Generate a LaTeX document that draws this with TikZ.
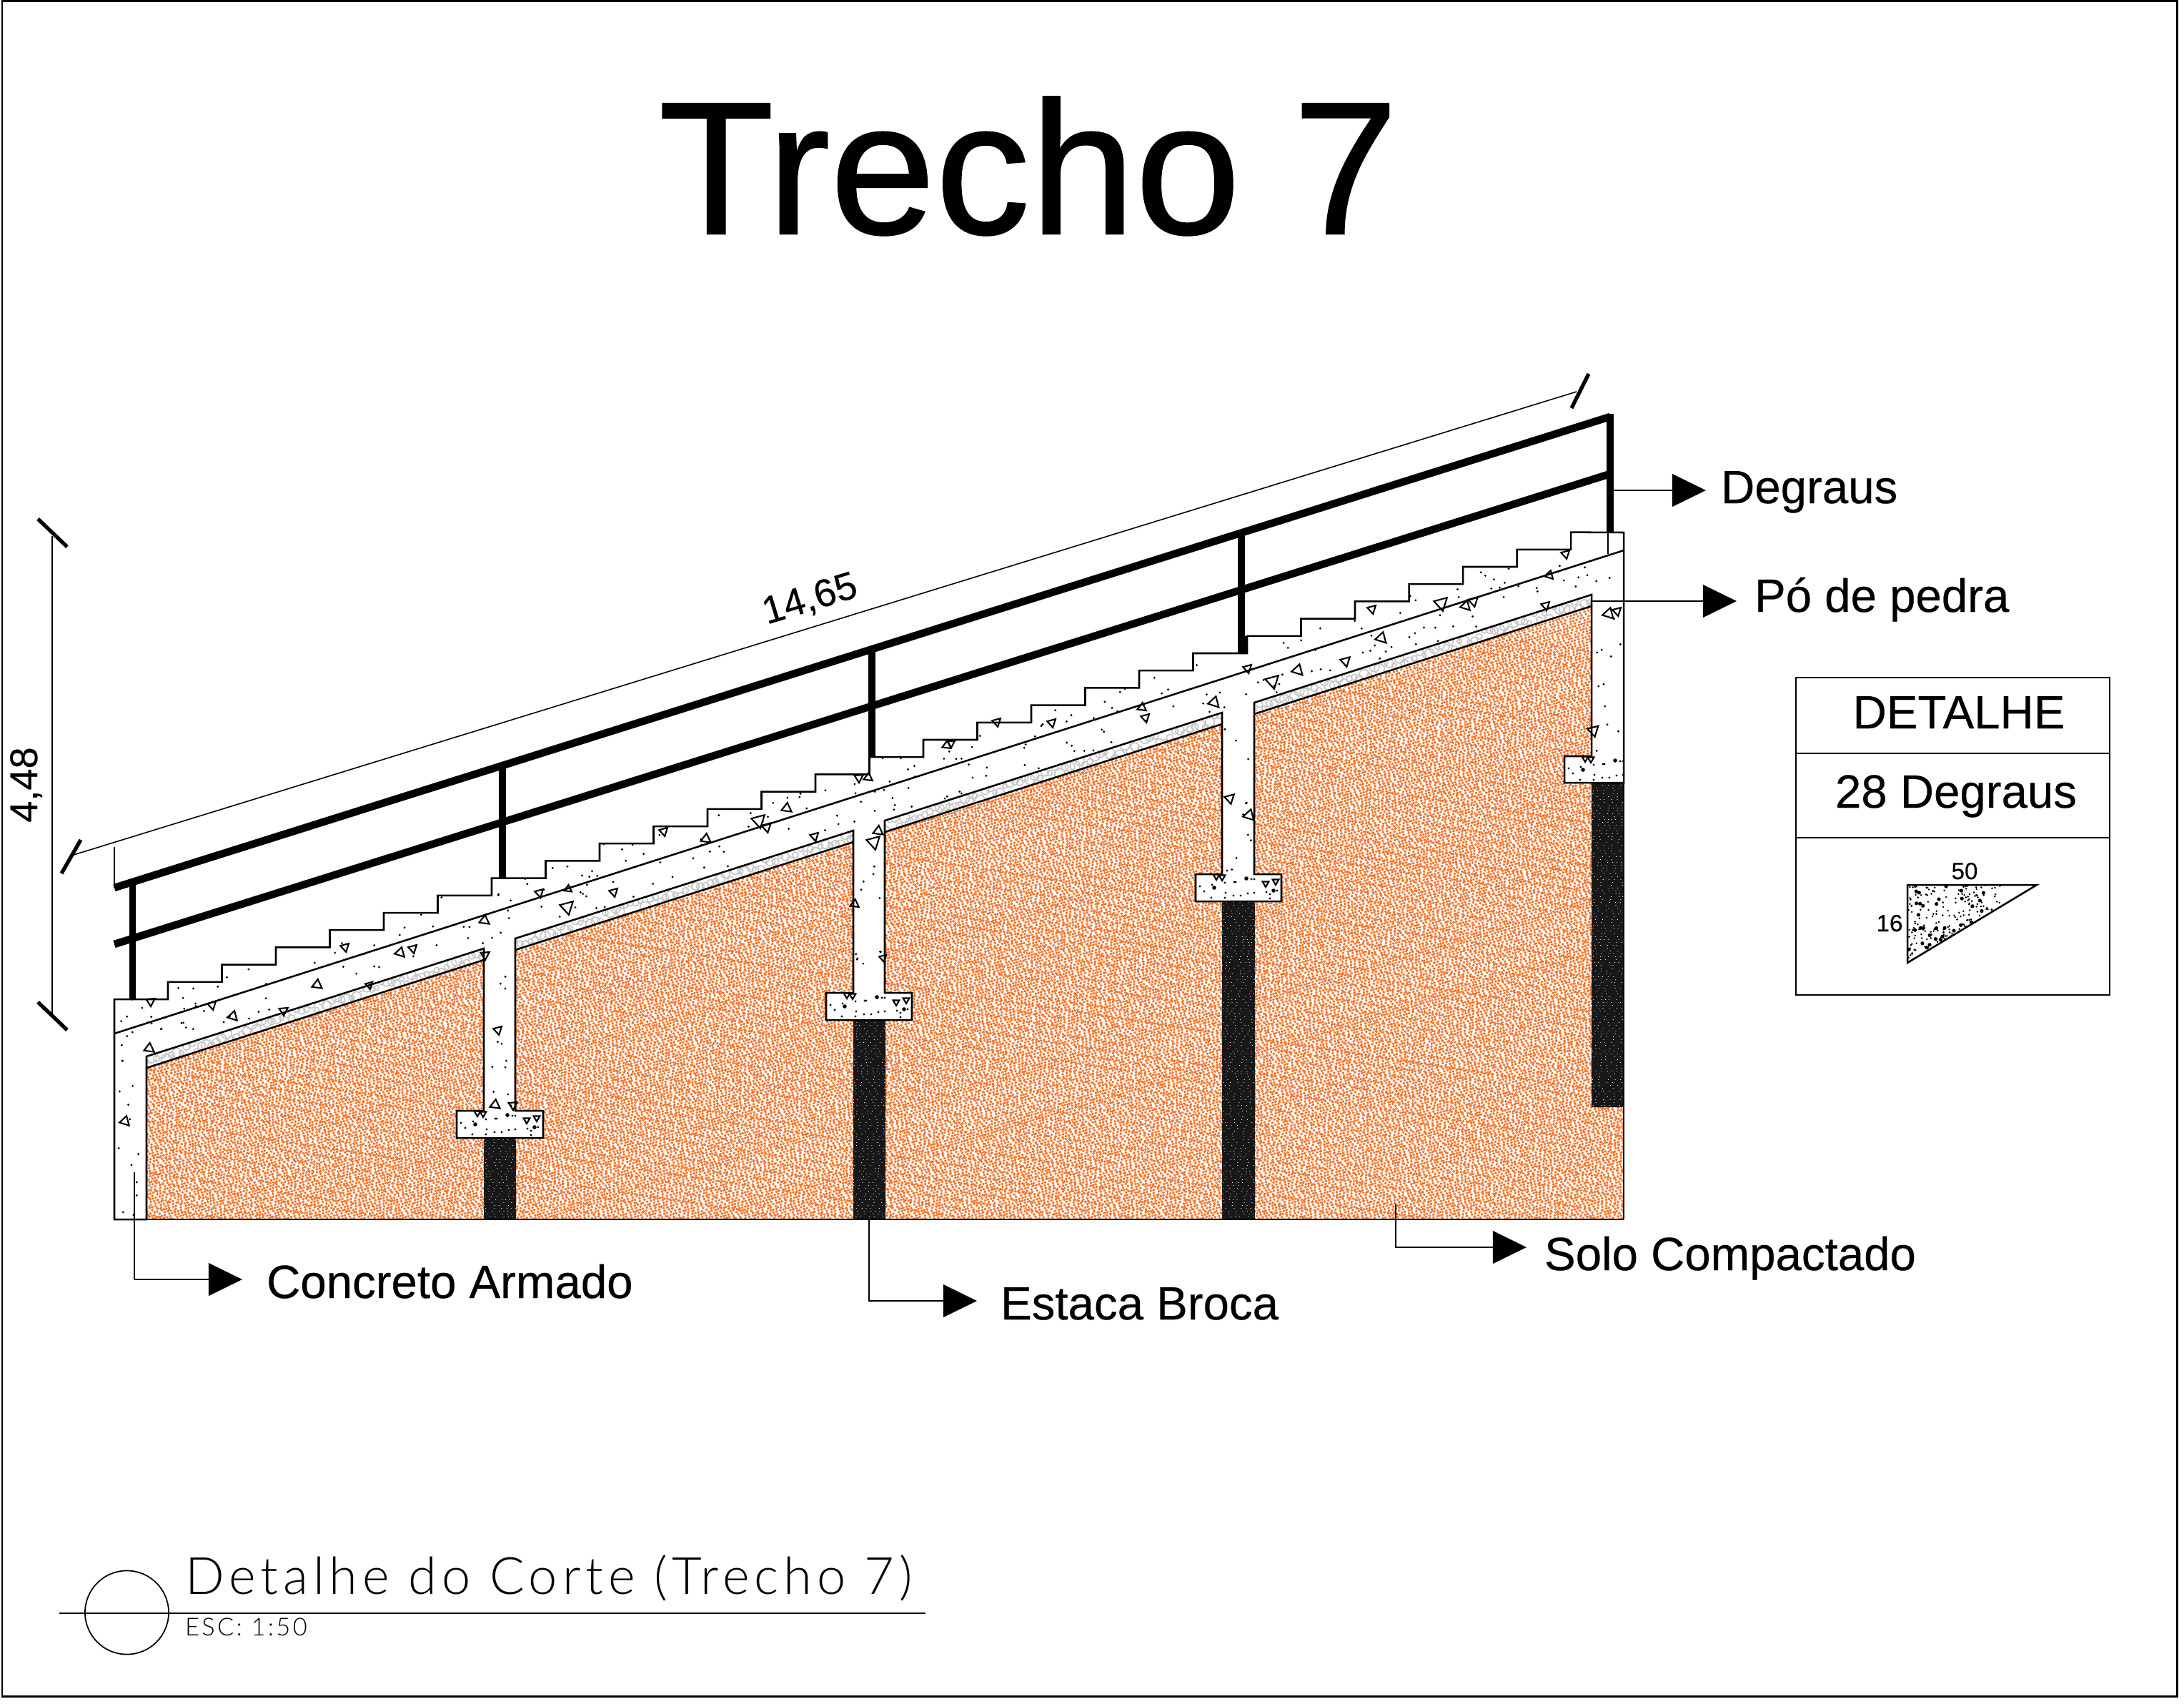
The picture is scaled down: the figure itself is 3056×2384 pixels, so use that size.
\documentclass[tikz,border=0pt]{standalone}
\usepackage{fontspec}
\setmainfont[FakeBold=0.35]{Liberation Sans}
\newfontfamily\headfont[FakeBold=0.8]{Liberation Sans}
\newfontfamily\sheetfont[LetterSpace=9.6]{Lato Light}
\usetikzlibrary{arrows.meta}
\definecolor{soilorange}{RGB}{244,120,48}
\definecolor{gravelgrey}{RGB}{200,200,200}
\definecolor{piledark}{RGB}{24,24,24}
\pgfmathsetseed{31}
\newcommand\concreteoutline{(160,1706) -- (160,1398)
    \foreach \k in {0,...,26} { -- ({235+75.5*\k},{1398-24.2*\k}) -- ({235+75.5*\k},{1373.8-24.2*\k}) }
    -- (2272,745) -- (2272,1095) -- (2189,1095) -- (2189,1058) -- (2227,1058) -- (2227,832)
    -- (1755,983) -- (1755,1223) -- (1793,1223) -- (1793,1261) -- (1673,1261) -- (1673,1223) -- (1710,1223) -- (1710,997)
    -- (1238,1148) -- (1238,1389) -- (1276,1389) -- (1276,1427) -- (1156,1427) -- (1156,1389) -- (1194,1389) -- (1194,1162)
    -- (721,1313) -- (721,1554) -- (760,1554) -- (760,1592) -- (639,1592) -- (639,1554) -- (677,1554) -- (677,1327)
    -- (205,1478) -- (205,1706) -- cycle}
\newcommand\stipplegaps[3]{
    \pgfmathsetmacro\gapa{#1+rnd*#2}
    \pgfmathsetmacro\gapb{#1+rnd*#2}
    \pgfmathsetmacro\gapc{#1+rnd*#2}
    \pgfmathsetmacro\gapd{#1+rnd*#2}
    \pgfmathsetmacro\gape{#1+rnd*#2}
    \pgfmathsetmacro\gapf{rnd*#3}
}
\begin{document}
\begin{tikzpicture}[x = 0.01cm, y = -0.01cm, line width = 0.6pt,
                      outline/.style = {draw, line width = 0.72pt, line join = miter},
                      thinline/.style = {draw, line width = 0.45pt},
                      rail/.style = {draw, line width = 3pt},
                      post/.style = {draw, line width = 2.6pt},
                      tick/.style = {draw, line width = 1.5pt},
                      leader/.style = {draw, line width = 0.5pt, -{Triangle[length = 13.4pt, width = 13pt]}},
                      callout/.style = {anchor = base west, inner sep = 0pt, font = \fontsize{18.6}{20}\selectfont},
                      cell/.style = {anchor = base, inner sep = 0pt, font = \fontsize{18.6}{20}\selectfont},
                      measure/.style = {anchor = base, inner sep = 0pt, font = \fontsize{15.4}{17}\selectfont},
                      small/.style = {anchor = base, inner sep = 0pt, font = \fontsize{9.4}{11}\selectfont},
                      grain/.style = {draw, line width = 0.6pt, line join = miter},
                      gravel/.style = {draw = gravelgrey, line width = 0.5pt},
                      stipple/.style = {dash pattern = on 0.1pt off \gapa pt on 0.1pt off \gapb pt on 0.1pt off \gapc pt on 0.1pt off \gapd pt on 0.1pt off \gape pt, dash phase = \gapf pt},
                      soilrow/.style = {draw = soilorange, line cap = round, line width = 1.08pt, stipple},
                      speck/.style = {draw = white, line cap = round, line width = 0.22pt, stipple}]
    \useasboundingbox (0,0) rectangle (3056,2384);
    \draw [line width = 0.85pt] (3,1) rectangle (3046,2373);
    \node [anchor = base, inner sep = 0pt, font = \headfont\fontsize{75.3}{80}\selectfont] (title) at (1439,327){Trecho 7};
    \begin{scope}
        \clip (205,1494) -- (677,1343) -- (677,1706) -- (205,1706) -- cycle
              (721,1329) -- (1194,1178) -- (1194,1706) -- (721,1706) -- cycle
              (1238,1164) -- (1710,1013) -- (1710,1706) -- (1238,1706) -- cycle
              (1755,999) -- (2227,848) -- (2227,1706) -- (1755,1706) -- cycle
              (2227,1549) rectangle (2272,1706);
        \foreach \r in {1440,1444,...,2345} {
            \stipplegaps{0.9}{1.2}{6}
            \draw [soilrow] (150,\r) -- (2290,{\r-642});
        }
        \foreach \r in {600,612,...,1710} {
            \stipplegaps{1.2}{2}{8}
            \draw [soilrow] (150,\r) -- (2290,{\r+321});
        }
    \end{scope}
    \foreach \a/\b/\c/\d in {205/677/1494/1343, 721/1194/1329/1178, 1238/1710/1164/1013, 1755/2227/999/848} {
        \begin{scope}
            \clip (\a,\c) -- (\b,\d) -- (\b,{\d-16}) -- (\a,{\c-16}) -- cycle;
            \foreach \n in {0,7,...,476} {
                \pgfmathsetmacro\gx{\a+\n}
                \pgfmathsetmacro\gy{\c-8+(\d-\c)/(\b-\a)*\n+(rnd-0.5)*14}
                \pgfmathsetmacro\gr{3+rnd*4.5}
                \draw [gravel] (\gx,\gy) circle [radius = \gr];
            }
        \end{scope}
        \draw [outline] (\a,\c) -- (\b,\d);
    }
    \begin{scope}
        \clip (677,1592) rectangle (722,1706) (1194,1427) rectangle (1239,1706)
              (1710,1261) rectangle (1756,1706) (2227,1095) rectangle (2272,1549);
        \fill [piledark] (600,1050) rectangle (2300,1720);
        \foreach \r in {1090,1094,...,1710} {
            \stipplegaps{1.2}{3.5}{8}
            \draw [speck] (600,\r) -- (2300,\r);
        }
    \end{scope}
    \draw [outline, fill = white] \concreteoutline;
    \draw [thinline] (2272,1095) -- (2272,1706);
    \draw [outline] (160,1706) -- (2272,1706);
    \draw [outline] (160,1446) -- (2272,770);
    \draw [thinline] (2250,745) -- (2250,775);
    \draw [thinline] (1743,890) -- (1743,915);
    \begin{scope}
        \clip \concreteoutline;
        \foreach \i in {1,...,380} {
            \pgfmathsetmacro\dotx{160+rnd*2112}
            \pgfmathsetmacro\doty{1478-0.3195*(\dotx-205)-3-rnd*118}
            \fill (\dotx,\doty) circle [radius = 1.6];
        }
        \foreach \p/\q/\r/\s in {163/203/1500/1700, 680/718/1340/1550, 1197/1235/1175/1385, 1713/1752/1010/1220, 2230/2270/845/1056} {
            \foreach \i in {1,...,11} {
                \fill ({\p+rnd*(\q-\p)},{\r+rnd*(\s-\r)}) circle [radius = 1.6];
            }
        }
        \foreach \fx/\fy in {639/1554, 1156/1389, 1673/1223, 2189/1058} {
            \foreach \u/\v in {6/17, 12/24, 23/15, 41/12, 42/26, 54/11, 56/11, 53/30, 63/30, 73/27, 82/26, 82/7, 78/7, 41/33, 104/28, 104/34, 114/23, 99/25, 22/33} {
                \fill ({\fx+\u},{\fy+\v}) circle [radius = 1.6];
            }
            \foreach \u/\v in {26/19, 71/6, 109/23} {
                \fill ({\fx+\u},{\fy+\v}) circle [radius = 2.8];
            }
            \foreach \u/\v in {29/3, 37/4, 98/13, 112/10} {
                \pgfmathsetmacro\gx{\fx+\u}
                \pgfmathsetmacro\gy{\fy+\v}
                \draw [grain] ([shift = {(90:5)}]\gx,\gy) -- ([shift = {(210:5)}]\gx,\gy) -- ([shift = {(330:5)}]\gx,\gy) -- cycle;
            }
        }
    \end{scope}
    \foreach \x/\y/\w/\s in {211/1401/90/7, 297/1406/80/7, 326/1422/170/8, 209/1467/160/8, 175/1569/170/8, 397/1414/90/7, 444/1378/160/8, 517/1378/80/6, 483/1325/80/7, 560/1333/170/8, 578/1327/80/7, 678/1288/160/8, 679/1336/90/7, 755/1249/80/7, 794/1269/80/11, 795/1244/160/6, 697/1441/80/7,
                              693/1546/160/8, 718/1546/90/7, 859/1248/80/7, 988/1174/160/8, 1062/1148/80/11, 1073/1157/80/8, 1101/1131/160/8, 929/1163/80/7, 1140/1170/80/7, 1202/1088/90/7, 1215/1088/160/7, 1223/1178/80/11, 1229/1163/160/8, 1196/1265/160/7, 1236/1340/80/6, 1325/1043/160/7, 1331/1040/90/6,
                              1395/1010/80/7, 1472/1011/80/7, 1598/990/160/7, 1920/852/80/7, 1933/893/170/9, 1883/925/80/8, 1816/938/170/9, 1781/953/80/11, 1746/935/80/7, 1699/983/170/9, 1603/1004/80/7, 1721/1117/80/8, 1748/1141/170/9, 2191/775/80/7, 2168/805/170/7, 2017/844/80/11, 2051/848/170/8, 2062/841/80/8, 2163/847/80/7, 2251/859/170/9, 2263/855/80/7, 2230/1022/80/9} {
        \draw [grain] ([shift = {(\w:\s)}]\x,\y) -- ([shift = {(\w+115:\s)}]\x,\y) -- ([shift = {(\w+235:\s)}]\x,\y) -- cycle;
    }
    \coordinate (railtopleft) at (160,1242);
    \coordinate (railtopright) at (2253,583);
    \coordinate (raillowleft) at (160,1321);
    \coordinate (raillowright) at (2253,663);
    \coordinate (railfoot) at (2253,745);
    \draw [rail] (railtopleft) -- (railtopright);
    \draw [rail] (raillowleft) -- (raillowright);
    \draw [post] (2253,579) -- (railfoot);
    \foreach \x/\a/\b in {185.5/1234/1398, 703/1071/1228, 1220/908/1059, 1737/745/914} {
        \draw [post] (\x,\a) -- (\x,\b);
    }
    \coordinate (slopestart) at (103,1196);
    \coordinate (slopeend) at (2206,548);
    \draw [thinline] (slopestart) -- (slopeend);
    \draw [thinline] (160,1185) -- (railtopleft);
    \draw [tick] (86,1222) -- (113,1175);
    \draw [tick] (2199,571) -- (2223,523);
    \node [measure, rotate = 17] (slopelabel) at (1138,854){14,65};
    \coordinate (risetop) at (73,750);
    \coordinate (risefoot) at (73,1421);
    \draw [thinline] (risetop) -- (risefoot);
    \draw [tick] (53,726) -- (94,765);
    \draw [tick] (53,1402) -- (94,1441);
    \node [measure, rotate = 90] (riselabel) at (52,1098){4,48};
    \node [callout] (degraus) at (2407,704){Degraus};
    \coordinate (degrausroot) at (2258,686);
    \draw [leader] (degrausroot) -- ([shift = {(-20,-18)}]degraus.base west);
    \node [callout] (pedra) at (2454,856){Pó de pedra};
    \coordinate (pedraroot) at (2227,841);
    \draw [leader] (pedraroot) -- ([shift = {(-24,-15)}]pedra.base west);
    \node [callout] (solo) at (2160,1777){Solo Compactado};
    \coordinate (soloroot) at (1953,1684);
    \draw [leader] (soloroot) |- ([shift = {(-24,-32)}]solo.base west);
    \node [callout] (estaca) at (1399,1846){Estaca Broca};
    \coordinate (estacaroot) at (1216,1706);
    \draw [leader] (estacaroot) |- ([shift = {(-32,-26)}]estaca.base west);
    \node [callout] (concreto) at (372,1816){Concreto Armado};
    \coordinate (concretoroot) at (188,1640);
    \draw [leader] (concretoroot) |- ([shift = {(-33,-26)}]concreto.base west);
    \draw [outline] (2513,948) rectangle (2952,1392);
    \draw [outline] (2513,1054) -- (2952,1054);
    \draw [outline] (2513,1172) -- (2952,1172);
    \node [cell] (detalhe) at (2741,1019){DETALHE};
    \node [cell] (degraucount) at (2737,1130){28 Degraus};
    \coordinate (wedgea) at (2669,1238);
    \coordinate (wedgeb) at (2850,1238);
    \coordinate (wedgec) at (2669,1347);
    \begin{scope}
        \clip (wedgea) -- (wedgeb) -- (wedgec) -- cycle;
        \foreach \i in {1,...,260} {
            \fill ({2669+rnd*130},{1238+rnd*109}) circle [radius = 1.4];
        }
        \foreach \i in {1,...,40} {
            \fill ({2669+rnd*120},{1238+rnd*100}) circle [radius = 2.6];
        }
    \end{scope}
    \draw [outline] (wedgea) -- (wedgeb) -- (wedgec) -- cycle;
    \node [small] (treadlabel) at (2749,1230){50};
    \node [small] (risesmall) at (2644,1303){16};
    \node [draw, circle, line width = 0.5pt, inner sep = 0pt, minimum size = 1.17cm] (stamp) at (177.5,2256){};
    \coordinate (ruleleft) at (83,2257);
    \coordinate (ruleright) at (1295,2257);
    \draw [outline] (ruleleft) -- (ruleright);
    \node [anchor = base west, inner sep = 0pt, font = \sheetfont\fontsize{20.5}{24}\selectfont] (sheettitle) at (258,2230){Detalhe do Corte (Trecho 7)};
    \node [anchor = base west, inner sep = 0pt, font = \sheetfont\fontsize{9.8}{12}\selectfont] (sheetscale) at (258,2288){ESC: 1:50};
\end{tikzpicture}
\end{document}
